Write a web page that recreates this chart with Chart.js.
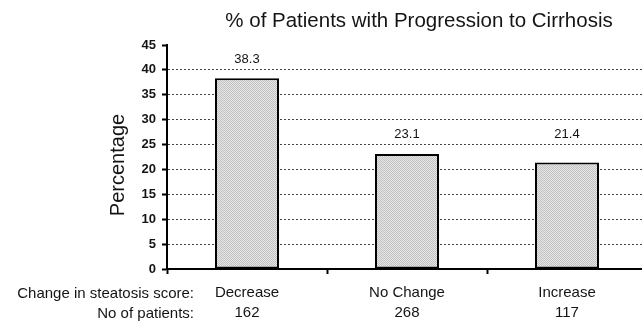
<!DOCTYPE html>
<html>
<head>
<meta charset="utf-8">
<script src="https://cdn.jsdelivr.net/npm/chart.js@4/dist/chart.umd.min.js"></script>
<style>
  html, body { margin: 0; padding: 0; background: #fff; overflow: hidden; }
  #wrap { width: 648px; height: 330px; }
</style>
</head>
<body>
<div id="wrap"><canvas id="c" width="648" height="330"></canvas></div>
<script>
// Progression to cirrhosis by change in steatosis score
const chartTitle = '% of Patients with Progression to Cirrhosis';
const yAxisTitle = 'Percentage';
const categories = ['Decrease', 'No Change', 'Increase'];
const patientCounts = [162, 268, 117];
const progressionPct = [38.3, 23.1, 21.4];
const rowHeaders = ['Change in steatosis score:', 'No of patients:'];
const yMin = 0, yMax = 45, yStep = 5;

const FONT = '"Liberation Sans", Arial, Helvetica, sans-serif';

// fine stipple fill for the bars
function stipple() {
  const p = document.createElement('canvas');
  p.width = 2; p.height = 2;
  const g = p.getContext('2d');
  g.fillStyle = '#e6e6e6'; g.fillRect(0, 0, 2, 2);
  g.fillStyle = '#c2c2c2'; g.fillRect(0, 0, 1, 1); g.fillRect(1, 1, 1, 1);
  return g.createPattern(p, 'repeat');
}

// title, rotated y title, row headers and value labels
const textPlugin = {
  id: 'texts',
  afterDatasetsDraw(chart) {
    const ctx = chart.ctx;
    const yScale = chart.scales.y;
    ctx.save();
    ctx.fillStyle = '#141414';
    ctx.textBaseline = 'alphabetic';

    ctx.font = '20.5px ' + FONT;
    ctx.textAlign = 'center';
    ctx.fillText(chartTitle, 419, 27);

    ctx.save();
    ctx.translate(124, 165);
    ctx.rotate(-Math.PI / 2);
    ctx.font = '20px ' + FONT;
    ctx.textAlign = 'center';
    ctx.fillText(yAxisTitle, 0, 0);
    ctx.restore();

    ctx.font = '15px ' + FONT;
    ctx.textAlign = 'right';
    ctx.fillText(rowHeaders[0], 194, 298);
    ctx.fillText(rowHeaders[1], 194, 318);

    // value labels sit in the gap between the two grid lines above each bar
    ctx.font = '13px ' + FONT;
    ctx.textAlign = 'center';
    ctx.textBaseline = 'middle';
    const meta = chart.getDatasetMeta(0);
    meta.data.forEach((bar, i) => {
      const v = progressionPct[i];
      let lower = Math.ceil(v / yStep) * yStep;
      if (lower === v) lower += yStep;
      const y = yScale.getPixelForValue(lower + yStep / 2) + 2;
      ctx.fillText(v.toFixed(1), bar.x, y);
    });
    ctx.restore();
  }
};

new Chart(document.getElementById('c'), {
  type: 'bar',
  data: {
    labels: categories.map((c, i) => [c, String(patientCounts[i])]),
    datasets: [{
      data: progressionPct,
      backgroundColor: stipple(),
      borderColor: '#000',
      borderWidth: 2,
      borderSkipped: false,
      barPercentage: 0.8,
      categoryPercentage: 0.5
    }]
  },
  options: {
    responsive: false,
    animation: false,
    devicePixelRatio: 1,
    layout: { padding: { top: 45, right: 1, left: 0, bottom: 0 } },
    plugins: {
      legend: { display: false },
      title: { display: false },
      tooltip: { enabled: false }
    },
    scales: {
      x: {
        afterFit(s) { s.height = 61; },
        border: { display: true, color: '#000', width: 2 },
        grid: {
          drawOnChartArea: false,
          drawTicks: true,
          tickLength: 5,
          tickColor: '#000',
          tickWidth: 2,
          offset: true
        },
        ticks: {
          color: '#141414',
          font: { family: FONT, size: 15, lineHeight: 20 / 15 },
          padding: 9,
          maxRotation: 0,
          autoSkip: false
        }
      },
      y: {
        min: yMin,
        max: yMax,
        afterFit(s) { s.width = 167; },
        border: { display: true, color: '#000', width: 2, dash: [2, 2] },
        grid: {
          drawOnChartArea: true,
          drawTicks: true,
          tickLength: 5,
          tickWidth: 2,
          tickColor: '#000',
          tickBorderDash: [1, 0],
          lineWidth: 1,
          color: (ctx) => (ctx.tick && (ctx.tick.value === yMin || ctx.tick.value === yMax)) ? 'rgba(0,0,0,0)' : '#444'
        },
        ticks: {
          stepSize: yStep,
          color: '#141414',
          padding: 6,
          font: { family: FONT, size: 13, weight: 'bold' }
        }
      }
    }
  },
  plugins: [textPlugin]
});
</script>
</body>
</html>
